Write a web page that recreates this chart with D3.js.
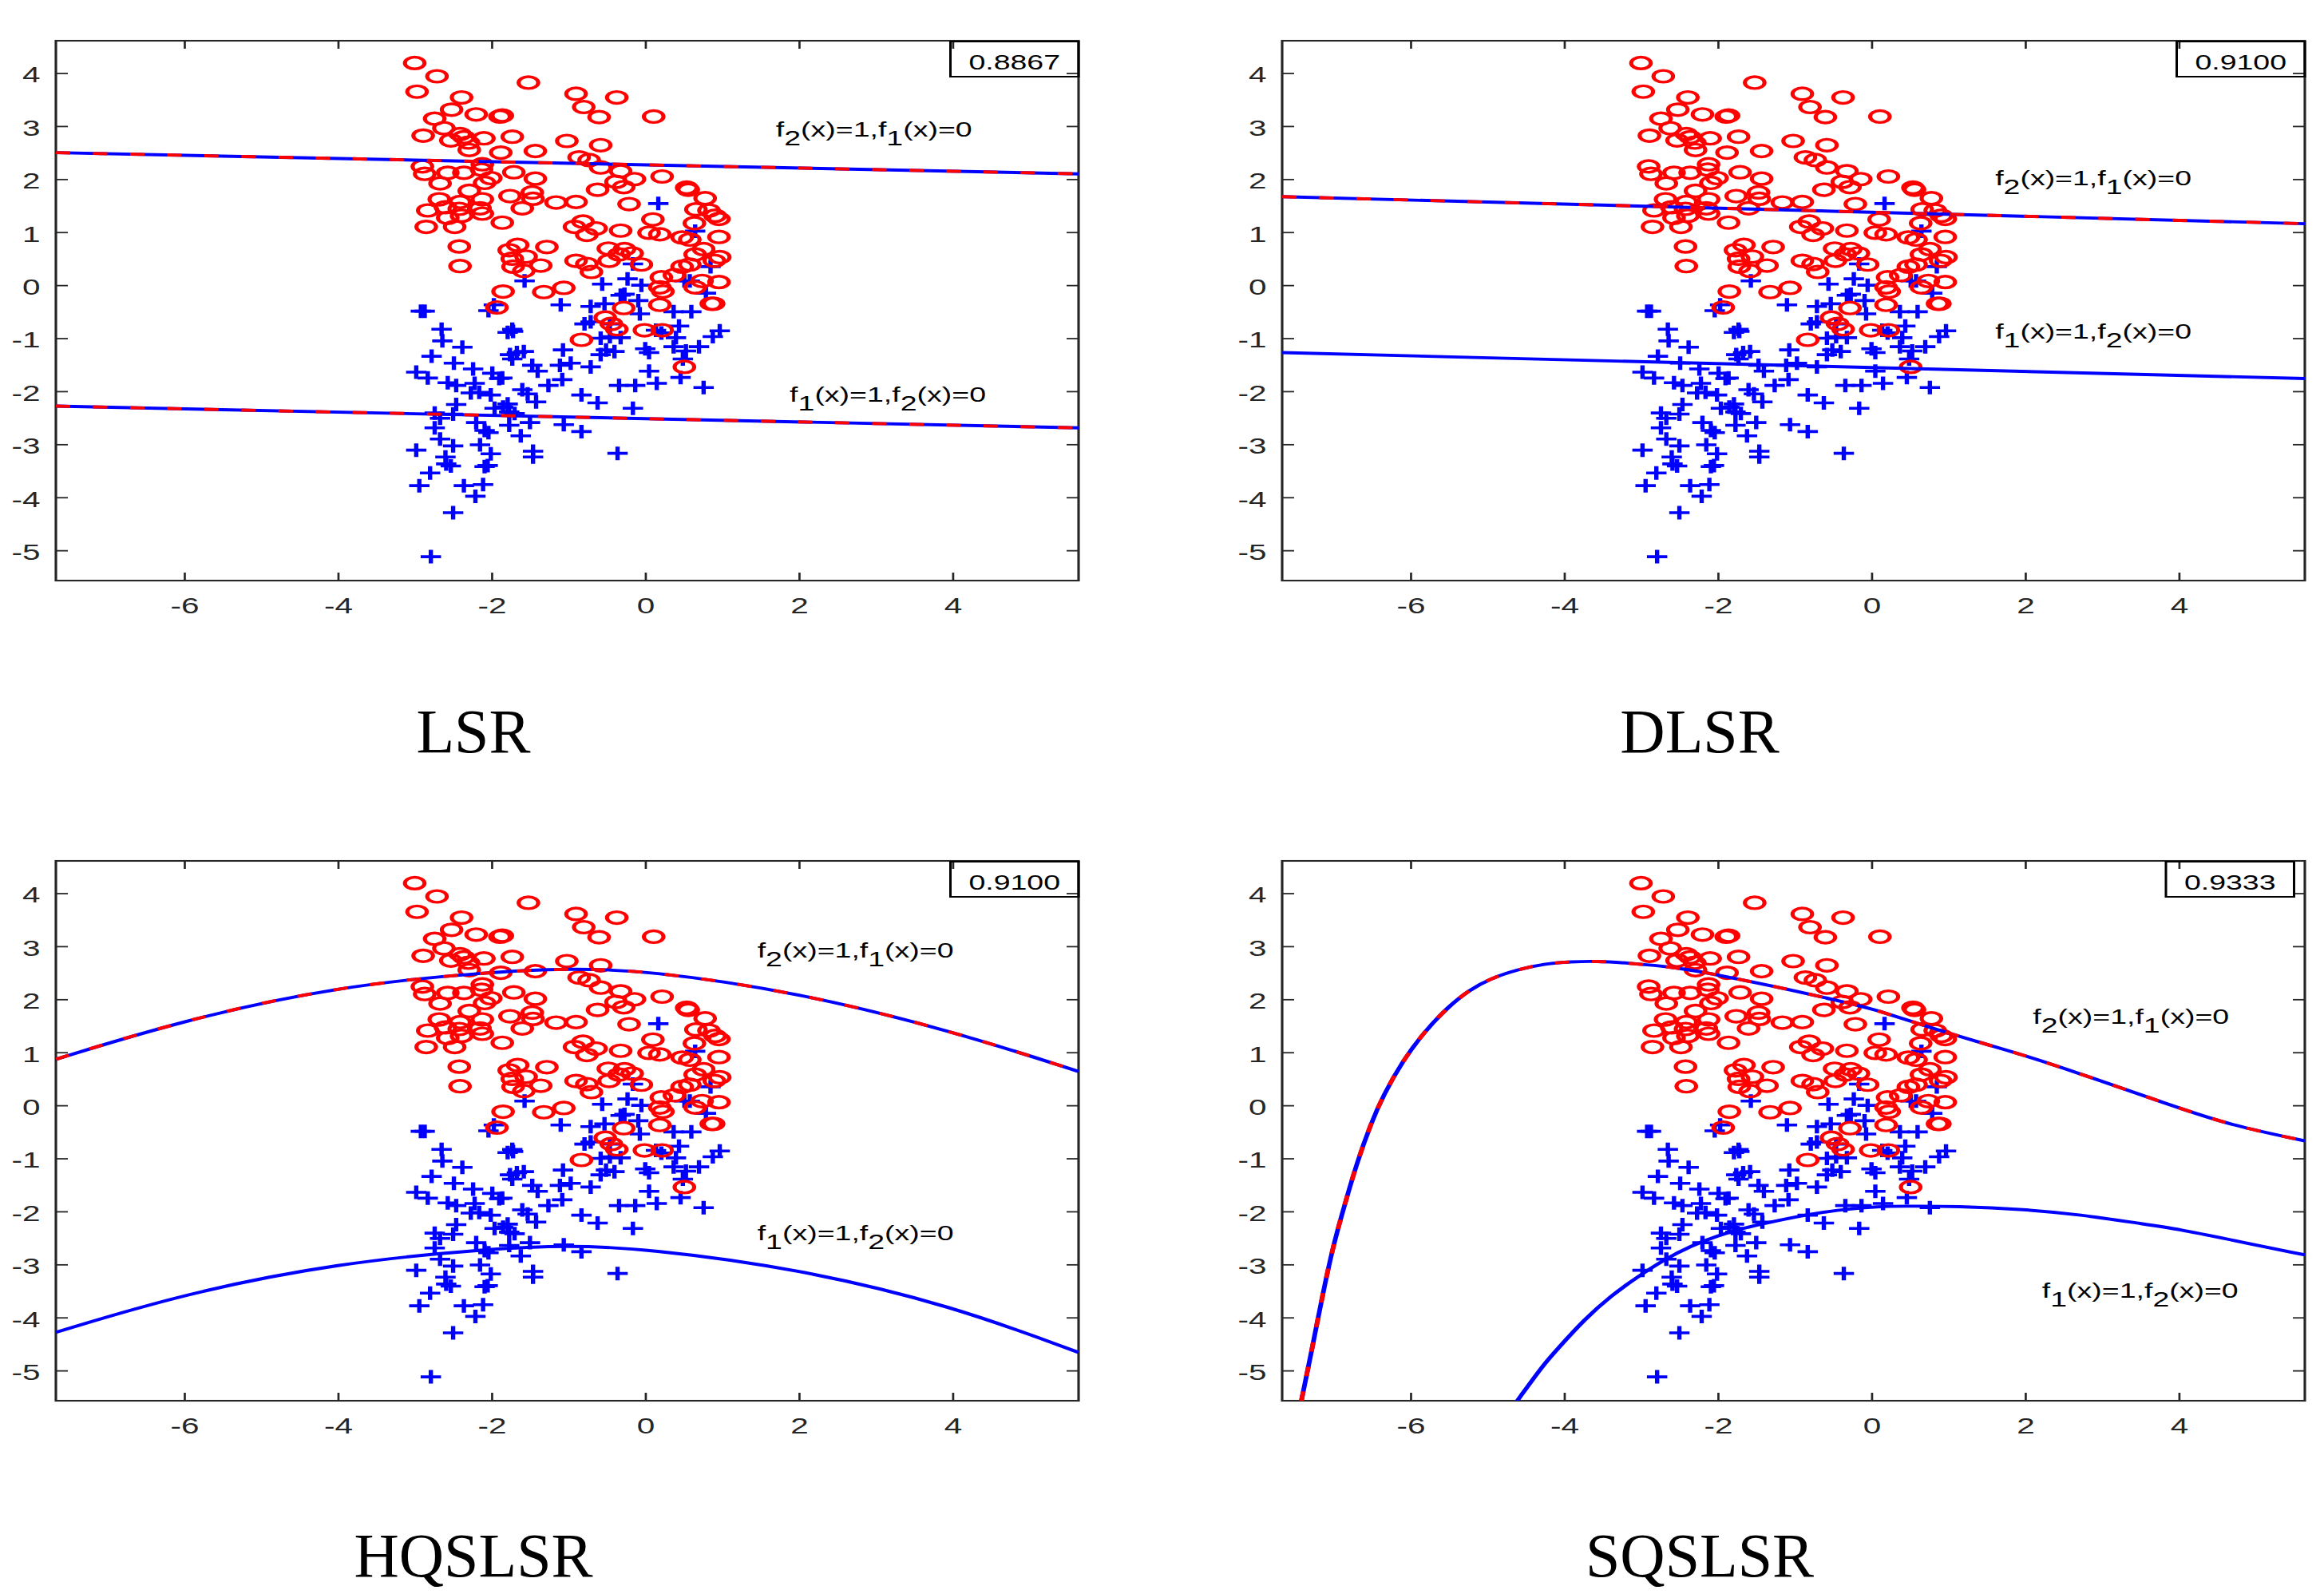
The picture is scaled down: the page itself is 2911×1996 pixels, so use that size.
<!DOCTYPE html>
<html>
<head>
<meta charset="utf-8">
<script src="https://d3js.org/d3.v7.min.js"></script>
<style>
  body { margin: 0; background: #fff; }
</style>
</head>
<body>
<div class="canvas"></div>
<script>
// ---- data ----
const redPts = [
  [-3.00,4.19],[-2.71,3.94],[-2.97,3.65],[-1.52,3.82],[-0.90,3.61],[-0.37,3.54],[-2.39,3.54],[-0.80,3.36],
  [-2.52,3.31],[-2.20,3.22],[-1.89,3.18],[-1.86,3.20],[-0.60,3.17],[0.11,3.18],[-2.74,3.14],[-2.62,2.96],
  [-2.89,2.82],[-2.41,2.85],[-2.36,2.79],[-2.10,2.77],[-1.73,2.80],[-2.53,2.73],[-2.30,2.69],[-1.02,2.72],
  [-0.58,2.64],[-2.29,2.55],[-1.43,2.53],[-1.88,2.50],[-0.86,2.41],[-0.73,2.36],[-2.90,2.24],[-2.12,2.28],
  [-2.87,2.10],[-2.57,2.12],[-2.36,2.12],[-2.13,2.18],[-1.71,2.13],[-0.58,2.22],[-0.32,2.15],[-2.01,2.02],
  [-1.43,2.01],[-0.14,2.00],[0.22,2.05],[-2.67,1.92],[-2.09,1.93],[-0.38,1.95],[-0.28,1.85],[-0.62,1.80],
  [0.54,1.84],[0.56,1.80],[-2.29,1.78],[-1.47,1.75],[-1.76,1.68],[-1.46,1.63],[0.78,1.64],[-2.68,1.62],
  [-2.12,1.62],[-2.41,1.57],[-1.16,1.56],[-0.90,1.57],[-0.21,1.53],[-2.60,1.47],[-2.83,1.41],[-2.42,1.44],
  [-2.15,1.45],[-1.60,1.45],[0.66,1.43],[0.83,1.41],[-2.57,1.27],[-2.39,1.31],[-2.12,1.35],[0.91,1.31],
  [0.96,1.25],[-1.86,1.18],[0.10,1.24],[-0.81,1.20],[0.64,1.17],[-2.85,1.10],[-2.48,1.10],[-0.92,1.10],
  [-0.64,1.07],[-0.32,1.03],[-0.76,0.95],[0.05,0.99],[0.19,0.96],[0.48,0.90],[0.58,0.86],[0.96,0.91],
  [-2.42,0.73],[-1.66,0.76],[-1.28,0.72],[-1.77,0.66],[-0.48,0.69],[-0.27,0.68],[0.76,0.68],[-0.17,0.60],
  [-0.34,0.58],[-1.73,0.50],[-1.55,0.54],[-0.90,0.46],[-0.76,0.40],[-0.47,0.46],[0.97,0.53],[0.90,0.46],
  [0.65,0.58],[-2.41,0.36],[-1.72,0.35],[-1.36,0.37],[-0.05,0.39],[-0.70,0.25],[-1.58,0.27],[0.48,0.35],
  [0.58,0.39],[0.21,0.15],[0.38,0.19],[0.74,0.08],[0.96,0.06],[0.19,-0.04],[0.23,-0.12],[0.65,-0.04],
  [-1.85,-0.12],[-1.06,-0.05],[-1.32,-0.13],[0.19,-0.37],[0.86,-0.35],[0.89,-0.35],[-1.93,-0.42],[-0.28,-0.43],
  [-0.52,-0.61],[-0.44,-0.73],[-0.37,-0.83],[-0.83,-1.03],[-0.01,-0.85],[0.22,-0.85],[0.51,-1.54]
]

const bluePts = [
  [-2.92,-0.49],[-2.87,-0.49],[-2.65,-0.83],[-2.64,-1.05],[-2.38,-1.17],[-2.78,-1.34],[-2.98,-1.64],[-2.83,-1.75],
  [-2.49,-1.47],[-2.24,-1.58],[-2.57,-1.84],[-2.46,-1.89],[-2.22,-1.85],[-2.16,-2.02],[-2.27,-2.03],[-2.01,-2.07],
  [-1.90,-1.76],[-1.99,-1.66],[-1.86,-1.75],[-2.04,-0.48],[-1.97,-0.37],[-1.79,-0.89],[-1.73,-0.83],[-1.72,-0.87],
  [-1.67,-1.27],[-1.76,-1.31],[-1.58,-1.25],[-1.73,-1.39],[-1.47,-1.51],[-1.40,-1.62],[-1.57,0.08],[-1.10,-0.37],
  [-1.07,-1.22],[-1.11,-1.51],[-0.97,-1.47],[-1.08,-1.78],[-1.26,-1.89],[-1.60,-1.97],[-1.53,-2.05],[-1.42,-2.20],
  [-1.79,-2.24],[-2.46,-2.25],[-2.50,-2.43],[-2.74,-2.41],[-2.67,-2.51],[-2.74,-2.69],[-2.67,-2.90],[-2.50,-3.03],
  [-2.98,-3.11],[-2.60,-3.24],[-2.59,-3.37],[-2.53,-3.41],[-2.80,-3.54],[-2.94,-3.78],[-2.36,-3.78],[-2.11,-3.76],
  [-2.21,-3.98],[-2.50,-4.29],[-2.79,-5.12],[-2.09,-3.42],[-2.05,-3.40],[-2.01,-3.18],[-2.15,-3.01],[-2.20,-2.59],
  [-2.09,-2.74],[-2.04,-2.78],[-1.96,-2.32],[-1.85,-2.30],[-1.77,-2.39],[-1.70,-2.42],[-1.77,-2.64],[-1.62,-2.84],
  [-1.50,-2.59],[-1.46,-3.13],[-1.46,-3.24],[-1.06,-2.63],[-0.83,-2.76],[-0.83,-2.07],[-0.62,-2.22],[-0.34,-1.89],
  [-0.13,-1.89],[-0.16,-2.32],[-0.36,-3.17],[0.15,-1.85],[0.46,-1.74],[0.76,-1.93],[-0.71,-1.54],[-0.58,-1.31],
  [-0.51,-1.22],[-0.40,-1.25],[-0.58,-1.00],[-0.46,-0.97],[-0.32,-0.99],[-0.79,-0.73],[-0.71,-0.40],[-0.53,-0.35],
  [-0.56,0.02],[-0.27,-0.17],[-0.23,0.12],[-0.16,0.40],[-0.05,0.00],[-0.09,-0.29],[-0.07,-0.54],[0.00,-1.20],
  [0.05,-1.27],[0.05,-1.62],[0.14,-0.85],[0.21,-0.90],[0.37,-0.50],[0.44,-0.77],[0.40,-0.99],[0.37,-1.16],
  [0.53,-1.24],[0.60,-0.50],[0.58,0.08],[0.65,1.02],[0.85,0.35],[0.17,1.54],[0.79,-0.15],[0.70,-1.16],
  [0.88,-0.97],[0.97,-0.86],[0.51,0.08],[-0.46,-0.73],[-0.32,-0.19],[-0.71,-0.69],[0.49,-1.39]
]

const xTicks = [-6, -4, -2, 0, 2, 4]
const yTicks = [4, 3, 2, 1, 0, -1, -2, -3, -4, -5]

const methods = ['LSR', 'DLSR', 'HQSLSR', 'SQSLSR']
const accuracy = ['0.8867', '0.9100', '0.9100', '0.9333']

// decision boundaries  f2(x)=1,f1(x)=0  (upper)  and  f1(x)=1,f2(x)=0  (lower)
const lsrUpper = [[-7.67,2.50],[5.64,2.10]]
const lsrLower = [[-7.67,-2.28],[5.64,-2.69]]
const dlsrUpper = [[-7.67,1.67],[5.64,1.16]]
const dlsrLower = [[-7.67,-1.27],[5.64,-1.76]]
const hqUpper = [[-7.67,0.87],[-6,1.61],[-4,2.25],[-2,2.52],[-1,2.58],[0,2.55],[2,2.13],[4,1.40],[5.64,0.64]]
const hqLower = [[-7.67,-4.28],[-6,-3.55],[-4,-2.97],[-2,-2.70],[-1,-2.64],[0,-2.70],[2,-3.08],[4,-3.78],[5.64,-4.66]]
const sqUpper = [[-7.42,-5.57],[-7.29,-4.66],[-7.15,-3.62],[-7.01,-2.66],[-6.83,-1.74],[-6.70,-1.10],[-6.52,-0.36],
  [-6.35,0.20],[-6.10,0.84],[-5.83,1.37],[-5.51,1.86],[-5.23,2.18],[-4.96,2.39],[-4.61,2.56],[-4.26,2.67],
  [-3.91,2.71],[-3.57,2.72],[-3.22,2.69],[-2.52,2.60],[-2.0,2.46],[-1.28,2.25],[-0.45,1.98],[0,1.83],[0.73,1.48],
  [1.52,1.14],[2.0,0.94],[2.71,0.60],[3.50,0.20],[3.99,-0.04],[4.69,-0.38],[5.64,-0.67]]
const sqLower = [[-4.61,-5.57],[-4.26,-4.87],[-4.09,-4.60],[-3.74,-4.04],[-3.39,-3.59],[-3.05,-3.24],[-2.70,-2.91],
  [-2.35,-2.65],[-2.01,-2.46],[-1.66,-2.31],[-1.31,-2.20],[-0.97,-2.10],[-0.62,-2.01],[-0.27,-1.95],[0.07,-1.91],
  [0.42,-1.90],[1.11,-1.90],[2.0,-1.96],[2.71,-2.06],[3.50,-2.23],[3.99,-2.33],[4.69,-2.54],[5.64,-2.82]]

const upperCurves = [lsrUpper, dlsrUpper, hqUpper, sqUpper]
const lowerCurves = [lsrLower, dlsrLower, hqLower, sqLower]

// ---- layout ----
const width = 2911, height = 1996
const sx = 1.5                       // the exported figure is stretched sideways
const plotW = 1281 / sx, plotH = 676
const panels = [
  { left: 70,   top: 51,   titleY: 942,  boxShift: 0,  upAt: [1.70, 2.80], lowAt: [1.88, -2.20], lowerMix: true },
  { left: 1606, top: 51,   titleY: 942,  boxShift: 0,  upAt: [1.61, 1.88], lowAt: [1.61, -1.00], lowerMix: false },
  { left: 70,   top: 1078, titleY: 1974, boxShift: 0,  upAt: [1.46, 2.79], lowAt: [1.46, -2.54], lowerMix: false },
  { left: 1606, top: 1078, titleY: 1974, boxShift: -9, upAt: [2.10, 1.54], lowAt: [2.22, -3.63], lowerMix: false }
]

const axisColor = '#262626'
const sansFont = '"Liberation Sans", Arial, Helvetica, sans-serif'
const serifFont = '"Liberation Serif", "Times New Roman", Times, serif'

const x = d3.scaleLinear().domain([-7.67, 5.64]).range([0, plotW])
const y = d3.scaleLinear().domain([-5.57, 4.61]).range([plotH, 0])

const line = d3.line()
  .x(d => x(d[0]))
  .y(d => y(d[1]))
  .curve(d3.curveBasis)

const svg = d3.select('.canvas')
  .append('svg')
  .attr('width', width)
  .attr('height', height)
  .style('background', '#fff')

svg.append('defs')
  .append('clipPath')
  .attr('id', 'plotClip')
  .append('rect')
  .attr('width', plotW)
  .attr('height', plotH)

panels.forEach((p, i) => {
  const graph = svg.append('g')
    .attr('transform', `translate(${p.left}, ${p.top}) scale(${sx}, 1)`)

  // axes (box on, ticks pointing in)
  const styleAxis = g => {
    g.attr('color', axisColor)
      .attr('font-family', sansFont)
      .attr('font-size', 27)
    g.select('.domain').remove()
    g.selectAll('.tick line').attr('stroke-width', 1.8)
    g.selectAll('text').attr('fill', axisColor)
  }

  graph.append('g')
    .attr('transform', `translate(0, ${plotH})`)
    .call(d3.axisBottom(x).tickValues(xTicks).tickSizeInner(-10).tickSizeOuter(0)
      .tickPadding(22).tickFormat(d => String(d)))
    .call(styleAxis)

  graph.append('g')
    .call(d3.axisTop(x).tickValues(xTicks).tickSizeInner(-10).tickSizeOuter(0).tickFormat(''))
    .call(styleAxis)

  graph.append('g')
    .call(d3.axisLeft(y).tickValues(yTicks).tickSizeInner(-10).tickSizeOuter(0)
      .tickPadding(13).tickFormat(d => String(d)))
    .call(styleAxis)
    .selectAll('text').attr('dy', '0.42em')

  graph.append('g')
    .attr('transform', `translate(${plotW}, 0)`)
    .call(d3.axisRight(y).tickValues(yTicks).tickSizeInner(-10).tickSizeOuter(0).tickFormat(''))
    .call(styleAxis)

  graph.append('rect')
    .attr('width', plotW)
    .attr('height', plotH)
    .attr('fill', 'none')
    .attr('stroke', axisColor)
    .attr('stroke-width', 2.1)

  const marks = graph.append('g').attr('clip-path', 'url(#plotClip)')

  // class 1 : blue plus
  marks.append('g')
    .selectAll('path')
    .data(bluePts).enter()
    .append('path')
    .attr('d', d => `M${x(d[0]) - 8.5},${y(d[1])}H${x(d[0]) + 8.5}M${x(d[0])},${y(d[1]) - 8.5}V${y(d[1]) + 8.5}`)
    .attr('fill', 'none')
    .attr('stroke', '#0000ff')
    .attr('stroke-width', 3.6)

  // class 2 : red circles
  marks.append('g')
    .selectAll('ellipse')
    .data(redPts).enter()
    .append('ellipse')
    .attr('cx', d => x(d[0]))
    .attr('cy', d => y(d[1]))
    .attr('rx', 8.2)
    .attr('ry', 7.4)
    .attr('fill', 'none')
    .attr('stroke', '#ff0000')
    .attr('stroke-width', 3.4)

  // boundaries: blue solid with red dashes on top
  const drawBoundary = (pts, mix) => {
    marks.append('path')
      .attr('d', line(pts))
      .attr('fill', 'none')
      .attr('stroke', '#0000ff')
      .attr('stroke-width', 3.9)
    if (mix) {
      marks.append('path')
        .attr('d', line(pts))
        .attr('fill', 'none')
        .attr('stroke', '#ff0000')
        .attr('stroke-width', 3.9)
        .attr('stroke-dasharray', '12 19')
    }
  }
  drawBoundary(upperCurves[i], true)
  drawBoundary(lowerCurves[i], p.lowerMix)

  // boundary labels
  const label = (at, a, b) => {
    const t = graph.append('text')
      .attr('x', x(at[0]))
      .attr('y', y(at[1]))
      .attr('font-family', sansFont)
      .attr('font-size', 25)
      .attr('fill', '#000')
    t.append('tspan').text('f')
    t.append('tspan').attr('dy', 11).text(a)
    t.append('tspan').attr('dy', -11).text('(x)=1,f')
    t.append('tspan').attr('dy', 11).text(b)
    t.append('tspan').attr('dy', -11).text('(x)=0')
  }
  label(p.upAt, '2', '1')
  label(p.lowAt, '1', '2')

  // accuracy box
  const boxW = 107, boxH = 44
  const bx = plotW - boxW + p.boxShift
  graph.append('rect')
    .attr('x', bx)
    .attr('y', 1)
    .attr('width', boxW)
    .attr('height', boxH)
    .attr('fill', 'none')
    .attr('stroke', '#000')
    .attr('stroke-width', 2)
  graph.append('text')
    .attr('x', bx + boxW / 2)
    .attr('y', 36)
    .attr('text-anchor', 'middle')
    .attr('font-family', sansFont)
    .attr('font-size', 25)
    .attr('fill', '#000')
    .text(accuracy[i])

  // method caption
  svg.append('text')
    .attr('x', p.left + 523)
    .attr('y', p.titleY)
    .attr('text-anchor', 'middle')
    .attr('font-family', serifFont)
    .attr('font-size', 78)
    .attr('fill', '#000')
    .text(methods[i])
})
</script>
</body>
</html>
